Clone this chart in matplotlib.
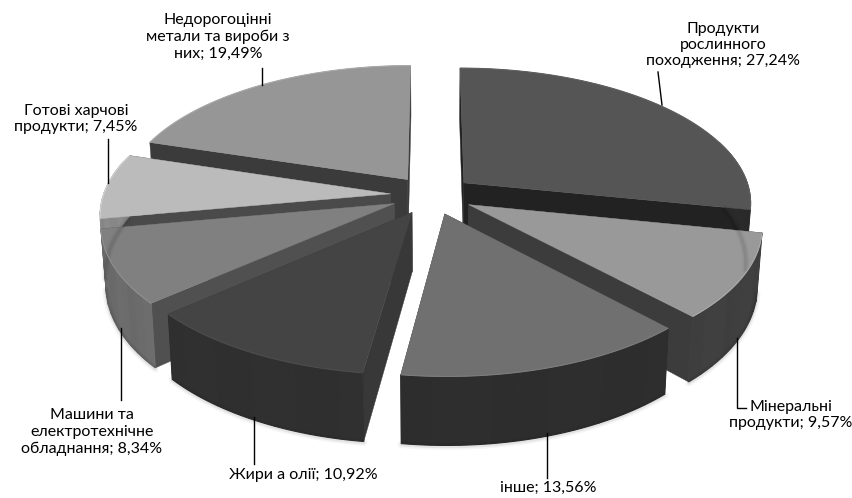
import numpy as np
import matplotlib

matplotlib.use("Agg")
import matplotlib.pyplot as plt
from matplotlib.patches import Polygon

plt.rcParams["font.family"] = ["Lato", "Open Sans", "DejaVu Sans"]

categories = [
    "Продукти\nрослинного\nпоходження",
    "Мінеральні\nпродукти",
    "інше",
    "Жири а олії",
    "Машини та\nелектротехнічне\nобладнання",
    "Готові харчові\nпродукти",
    "Недорогоцінні\nметали та вироби з\nних",
]
values = [27.24, 9.57, 13.56, 10.92, 8.34, 7.45, 19.49]
value_labels = ["27,24%", "9,57%", "13,56%", "10,92%", "8,34%", "7,45%", "19,49%"]

top_colors = ["#555555", "#999999", "#707070", "#444444", "#808080", "#bbbbbb", "#969696"]
cut_colors = ["#222222", "#3c3c3c", "#383838", "#383838", "#505050", "#4a4a4a", "#3b3b3b"]
wall_colors = ["#2a2a2a", "#404040", "#2e2e2e", "#303030", "#6c6c6c", "#8a8a8a", "#555555"]

label_pos = [(723, 45), (791, 415), (548, 488), (303, 475), (92, 432), (76, 119), (218, 37)]
leaders = [
    [(658, 72), (662, 105)],
    [(737, 338), (737, 408), (746, 408)],
    [(547, 433), (547, 478)],
    [(254, 417), (254, 464)],
    [(121, 328), (121, 400)],
    [(108, 139), (108, 183)],
    [(262, 68), (262, 85)],
]

# back to front
draw_order = [0, 6, 5, 4, 1, 3, 2]

CX, CY = 432, 195
RX, RY = 287, 134
PERSP = 0.14
EXPLODE = 0.145
HEIGHT = 58
BOTTOM_X = 0.985


def project(u, v):
    w = 1 + PERSP * v
    return CX + RX * u / w, CY - RY * v / w, w


def bottom(x, y, w):
    return CX + (x - CX) * BOTTOM_X, y + HEIGHT / w


def shade(color, k):
    c = np.array(matplotlib.colors.to_rgb(color)) * k
    return tuple(np.clip(c, 0, 1))


def draw_slice(ax, start, end, top, cut, wall):
    mid = np.radians((start + end) / 2)
    ou, ov = EXPLODE * np.sin(mid), EXPLODE * np.cos(mid)
    th = np.radians(np.linspace(start, end, 61))
    x, y, w = project(ou + np.sin(th), ov + np.cos(th))
    ax0, ay0, aw = project(ou, ov)
    xb, yb = bottom(x, y, w)
    axb, ayb = bottom(ax0, ay0, aw)
    front = np.cos(th) < 0.25

    # soft shadow under the front edge only
    if front.any():
        for lw, alpha in [(5, 0.04), (2.5, 0.07)]:
            ax.plot(xb[front], yb[front] + 1, color="black", lw=lw, alpha=alpha, solid_capstyle="round")

    # cut faces
    for i in (0, -1):
        ax.add_patch(Polygon([(ax0, ay0), (x[i], y[i]), (xb[i], yb[i]), (axb, ayb)],
                             closed=True, fc=cut, ec=cut, lw=0.3))

    # outer wall, in wide bands for the gradient
    band = 6
    for b, i in enumerate(range(0, len(th) - 1, band)):
        j = min(i + band, len(th) - 1)
        if not front[i:j + 1].any():
            continue
        k = 0.99 + 0.02 * np.cos(b * 1.7)
        c = shade(wall, k)
        pts = list(zip(x[i:j + 1], y[i:j + 1])) + list(zip(xb[i:j + 1][::-1], yb[i:j + 1][::-1]))
        ax.add_patch(Polygon(pts, closed=True, fc=c, ec=c, lw=0.8))

    # top face with lighter rim
    pts = [(ax0, ay0)] + list(zip(x, y))
    ax.add_patch(Polygon(pts, closed=True, fc=top, ec=top, lw=0.3))
    ax.plot(x, y, color=shade(top, 1.12), lw=0.8, solid_capstyle="butt")


def main():
    fig = plt.figure(figsize=(8.52, 4.98), dpi=100)
    ax = fig.add_axes([0, 0, 1, 1])
    ax.set_xlim(0, 852)
    ax.set_ylim(498, 0)
    ax.axis("off")

    edges = np.concatenate([[0], np.cumsum(values)]) / sum(values) * 360

    for i in draw_order:
        draw_slice(ax, edges[i], edges[i + 1], top_colors[i], cut_colors[i], wall_colors[i])

    for pts in leaders:
        xs, ys = zip(*pts)
        ax.plot(xs, ys, color="black", lw=1.0, solid_joinstyle="miter")

    for cat, val, (lx, ly) in zip(categories, value_labels, label_pos):
        ax.text(lx, ly, f"{cat}; {val}", ha="center", va="center", fontsize=11.5,
                color="black", linespacing=1.22)

    fig.savefig("out.png", dpi=100)


if __name__ == "__main__":
    main()
